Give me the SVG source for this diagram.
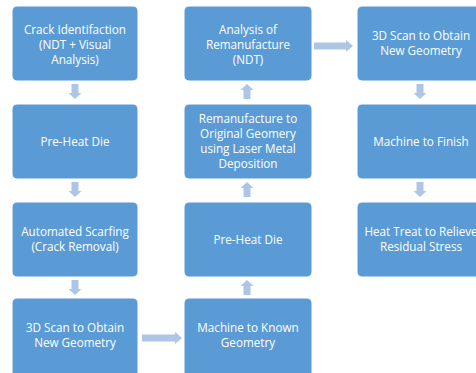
<svg xmlns="http://www.w3.org/2000/svg" width="476" height="373" viewBox="0 0 476 373">
<style>
.box{fill:#5b9bd5;stroke:#ffffff;stroke-width:1}
.t{fill:#ffffff;font-family:"Open Sans","Noto Sans",sans-serif;font-size:11.7px;text-anchor:middle}
.arr{fill:#aec6e6}
</style>
<rect width="476" height="373" fill="#ffffff"/>
<g id="connectors">
<path class="arr" d="M71.5,84 H78.5 V93 H81.5 L75,99 L68.5,93 H71.5 Z"/>
<path class="arr" d="M71.5,182 H78.5 V191 H81.5 L75,197 L68.5,191 H71.5 Z"/>
<path class="arr" d="M71.5,280 H78.5 V289 H81.5 L75,295 L68.5,289 H71.5 Z"/>
<path class="arr" d="M142,334.5 H175 V332 L182,338 L175,344 V341.5 H142 Z"/>
<path class="arr" d="M243.5,295 H250.5 V286 H253.5 L247,280 L240.5,286 H243.5 Z"/>
<path class="arr" d="M243.5,197 H250.5 V188 H253.5 L247,182 L240.5,188 H243.5 Z"/>
<path class="arr" d="M243.5,99 H250.5 V90 H253.5 L247,84 L240.5,90 H243.5 Z"/>
<path class="arr" d="M314,42.5 H346 V40 L353,46 L346,52 V49.5 H314 Z"/>
<path class="arr" d="M416.5,84 H423.5 V93 H426.5 L420,99 L413.5,93 H416.5 Z"/>
<path class="arr" d="M416.5,182 H423.5 V191 H426.5 L420,197 L413.5,191 H416.5 Z"/>
</g>
<g id="n1"><rect class="box" x="12" y="6" width="126" height="75" rx="5"/>
<text class="t" x="75" y="34">Crack Identifaction</text><text class="t" x="75" y="49">(NDT + Visual</text><text class="t" x="75" y="64">Analysis)</text></g>
<g id="n2"><rect class="box" x="12" y="104" width="126" height="75" rx="5"/>
<text class="t" x="75" y="145.5">Pre-Heat Die</text></g>
<g id="n3"><rect class="box" x="12" y="202" width="126" height="75" rx="5"/>
<text class="t" x="75" y="236">Automated Scarfing</text><text class="t" x="75" y="251">(Crack Removal)</text></g>
<g id="n4"><rect class="box" x="12" y="298" width="126" height="80" rx="5"/>
<text class="t" x="75" y="332">3D Scan to Obtain</text><text class="t" x="75" y="347">New Geometry</text></g>
<g id="n5"><rect class="box" x="184" y="298" width="128" height="80" rx="5"/>
<text class="t" x="248" y="332">Machine to Known</text><text class="t" x="248" y="347">Geometry</text></g>
<g id="n6"><rect class="box" x="184" y="202" width="128" height="75" rx="5"/>
<text class="t" x="248" y="243.5">Pre-Heat Die</text></g>
<g id="n7"><rect class="box" x="184" y="104" width="128" height="75" rx="5"/>
<text class="t" x="248" y="123">Remanufacture to</text><text class="t" x="248" y="138">Original Geomery</text><text class="t" x="248" y="153">using Laser Metal</text><text class="t" x="248" y="168">Deposition</text></g>
<g id="n8"><rect class="box" x="184" y="6" width="128" height="75" rx="5"/>
<text class="t" x="248" y="34">Analysis of</text><text class="t" x="248" y="49">Remanufacture</text><text class="t" x="248" y="64">(NDT)</text></g>
<g id="n9"><rect class="box" x="357" y="6" width="128" height="75" rx="5"/>
<text class="t" x="421" y="40">3D Scan to Obtain</text><text class="t" x="421" y="55">New Geometry</text></g>
<g id="n10"><rect class="box" x="357" y="104" width="128" height="75" rx="5"/>
<text class="t" x="421" y="145.5">Machine to Finish</text></g>
<g id="n11"><rect class="box" x="357" y="202" width="128" height="75" rx="5"/>
<text class="t" x="421" y="236">Heat Treat to Relieve</text><text class="t" x="421" y="251">Residual Stress</text></g>
</svg>
